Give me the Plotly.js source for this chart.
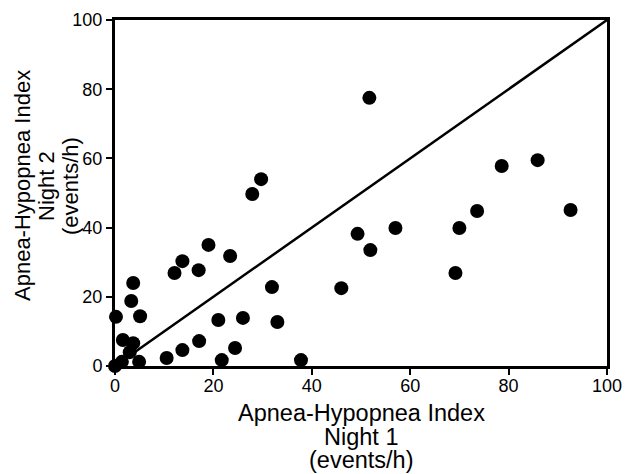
<!DOCTYPE html>
<html>
<head>
<meta charset="utf-8">
<script src="https://cdn.plot.ly/plotly-3.0.1.min.js"></script>
<style>html,body{margin:0;padding:0;background:#fff;}#chart{width:625px;height:474px;}</style>
</head>
<body>
<div id="chart"></div>
<script>
// AHI night 1 (x) and night 2 (y), events/h
const night1 = [0, 0.2, 1.6, 3.7, 3.0, 1.4, 4.9, 3.3, 3.7, 5.1, 10.5, 13.7, 17.1, 21.7, 24.4, 21.0, 26.0, 33.0, 31.9, 37.8, 12.1, 13.7, 17.0, 19.0, 23.4, 27.9, 29.7, 51.7, 78.6, 85.9, 92.6, 73.6, 70.0, 57.0, 49.3, 51.9, 69.2, 46.0];
const night2 = [0, 14.2, 7.5, 6.6, 4.0, 1.2, 1.2, 18.8, 24.0, 14.4, 2.3, 4.6, 7.2, 1.7, 5.2, 13.3, 13.9, 12.7, 22.8, 1.7, 26.9, 30.3, 27.7, 35.0, 31.8, 49.7, 54.0, 77.5, 57.8, 59.5, 45.1, 44.8, 39.9, 39.9, 38.2, 33.5, 26.9, 22.5];
// line of identity
const identityX = [0, 100];
const identityY = [0, 100];
const tickVals = [0, 20, 40, 60, 80, 100];
const xTitleLines = ['Apnea-Hypopnea Index', 'Night 1', '(events/h)'];
const yTitleLines = ['Apnea-Hypopnea Index', 'Night 2', '(events/h)'];

const font = 'Liberation Sans, Arial, Helvetica, sans-serif';

const traces = [
  {x: identityX, y: identityY, type: 'scatter', mode: 'lines',
   line: {color: '#000', width: 2.5}, hoverinfo: 'skip', cliponaxis: false},
  {x: night1, y: night2, type: 'scatter', mode: 'markers',
   marker: {color: '#000', size: 14, line: {width: 0}}, cliponaxis: false}
];

const axisCommon = {
  range: [0, 100], tickvals: tickVals, ticks: 'outside', ticklen: 6, tickwidth: 2,
  tickcolor: '#000', showline: true, linecolor: '#000', linewidth: 3, mirror: true,
  showgrid: false, zeroline: false, tickfont: {family: font, size: 18, color: '#000'},
  layer: 'below traces'
};

const annotations = [];
const xShiftsY = [-47, -71, -94];
xTitleLines.forEach((t, i) => annotations.push({
  text: t, xref: 'paper', yref: 'paper', x: 0.5, y: 0, xanchor: 'center', yanchor: 'middle',
  yshift: xShiftsY[i], showarrow: false, font: {family: font, size: 23.5, color: '#000'}
}));
const yShiftsX = [-93, -69, -45];
yTitleLines.forEach((t, i) => annotations.push({
  text: t, xref: 'paper', yref: 'paper', x: 0, y: 0.5, xanchor: 'center', yanchor: 'middle',
  xshift: yShiftsX[i], yshift: 7, textangle: -90, showarrow: false,
  font: {family: font, size: 22, color: '#000'}
}));

const layout = {
  width: 625, height: 474,
  margin: {l: 115, r: 18, t: 20, b: 108},
  paper_bgcolor: '#fff', plot_bgcolor: '#fff',
  showlegend: false,
  xaxis: Object.assign({}, axisCommon, {ticklabelstandoff: -5}),
  yaxis: Object.assign({}, axisCommon),
  annotations: annotations
};

Plotly.newPlot('chart', traces, layout, {displayModeBar: false, staticPlot: true});
</script>
</body>
</html>
